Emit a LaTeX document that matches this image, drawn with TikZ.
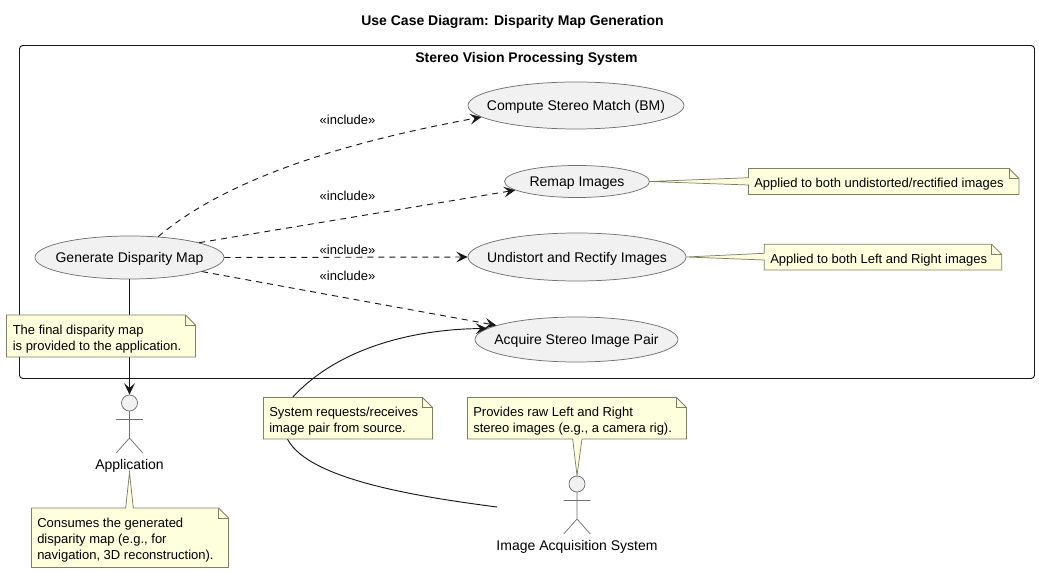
\documentclass[tikz,border=0pt]{standalone}
\usepackage{fontspec}
\setmainfont{Liberation Sans}
\usetikzlibrary{shapes.geometric,arrows.meta,calc}
\definecolor{nf}{HTML}{FEFFDD}
\definecolor{ng}{HTML}{7F7F66}
\definecolor{uf}{HTML}{F1F1F1}
\definecolor{ug}{HTML}{707070}
\definecolor{ln}{HTML}{181818}
\newcommand{\uc}[1]{\smash{\raisebox{-0.36em}{\makebox[0pt]{#1}}}}
\tikzset{x=0.75pt,y=-0.75pt,
 usecase/.style={ellipse,draw=ug,fill=uf,line width=0.55pt,inner sep=0,font=\fontsize{10.5}{12}\selectfont},
 barb/.style={-{Stealth[length=8.5pt,width=8pt,inset=3.5pt]}},
 inc/.style={draw=ln,line width=0.7pt,dash pattern=on 4.5pt off 3.75pt,barb},
 assoc/.style={draw=ln,line width=0.7pt},
 lbl/.style={font=\fontsize{9.75}{11}\selectfont,inner sep=0},
 ntxt/.style={font=\fontsize{9.75}{12}\selectfont,inner sep=0,align=left,anchor=west},
 nshape/.style={draw=ng,fill=nf,line width=0.55pt,line join=miter},
 actor/.style={draw=ug,line width=0.55pt},
 head/.style={circle,draw=ug,fill=uf,line width=0.55pt,minimum size=12pt,inner sep=0},
 atxt/.style={font=\fontsize{10.5}{12}\selectfont,inner sep=0},
 ttl/.style={font=\bfseries\fontsize{10.5}{12}\selectfont,inner sep=0}}
\newcommand{\notebox}[7]{% x1,y1,x2,y2,top pointer,bottom pointer,left pointer
 \draw[nshape] (#1,#2) -- #5 ({#3-10},#2) -- (#3,{#2+10}) -- (#3,#4) -- #6 (#1,#4) -- #7 cycle;
 \draw[nshape,fill=none] ({#3-10},#2) -- ({#3-10},{#2+10}) -- (#3,{#2+10});}
\newcommand{\stick}[1]{% head node name
 \draw[actor] ($(#1)+(0,8)$) -- ($(#1)+(0,35)$)
  ($(#1)+(-13.3,16.5)$) -- ($(#1)+(13.3,16.5)$)
  ($(#1)+(-13.3,50)$) -- ($(#1)+(0,35)$) -- ($(#1)+(13.3,50)$);}
\begin{document}
\begin{tikzpicture}
\useasboundingbox[fill=white] (0,0) rectangle (1039,573);
\node[ttl] (title) at (512.5,21.5) {Use Case Diagram: Disparity Map Generation};
\node[draw=ln,line width=0.7pt,rounded corners=2.5pt,minimum width=761.25pt,minimum height=249.75pt,inner sep=0] (frame) at (527,212) {};
\node[ttl] (sys) at (526.5,58.5) {Stereo Vision Processing System};
% use cases
\node[usecase,minimum width=141.75pt,minimum height=32.25pt] (gen) at (129.5,257.5) {\uc{Generate Disparity Map}};
\node[usecase,minimum width=162pt,minimum height=35.25pt] (cmp) at (576,105.5) {\uc{Compute Stereo Match (BM)}};
\node[usecase,minimum width=108.75pt,minimum height=24pt] (rem) at (577,181.5) {\uc{Remap Images}};
\node[usecase,minimum width=163.5pt,minimum height=36pt] (und) at (577,257) {\uc{Undistort and Rectify Images}};
\node[usecase,minimum width=152.25pt,minimum height=33.75pt] (acq) at (576.5,339.5) {\uc{Acquire Stereo Image Pair}};
% actors
\node[head] (app) at (129.5,403) {};
\stick{app}
\node[atxt] (applbl) at (129.5,465.5) {Application};
\node[head] (ias) at (577,484) {};
\stick{ias}
\node[atxt] (iaslbl) at (577,546.5) {Image Acquisition System};
\coordinate (iasleft) at (497,507);
% connectors
\draw[inc] (gen.36.7) .. controls (225,180) and (340,143) .. (cmp.187.8);
\draw[inc] (gen.12) -- (rem.188.7);
\draw[inc] (gen.0) -- (und.180);
\draw[inc] (gen.-11.6) -- (acq.170.6);
\draw[assoc,barb] (gen) -- (app);
\draw[assoc,barb] (iasleft) .. controls (420,497) and (310,480) .. (288,440)
  .. controls (278,422) and (278,410) .. (292,398)
  .. controls (340,345) and (420,329) .. (acq.173);
% include labels
\node[lbl] (i1) at (347.5,120) {«include»};
\node[lbl] (i2) at (347.5,196) {«include»};
\node[lbl] (i3) at (347.5,250) {«include»};
\node[lbl] (i4) at (347.5,276) {«include»};
% notes
\notebox{6.5}{315}{195.5}{357}{}{}{}
\node[ntxt] (n1) at (12.5,339.5) {The final disparity map\\is provided to the application.};
\notebox{31.5}{508}{228.5}{567.5}{(125.7,508) -- (applbl.south) -- (133.3,508) --}{}{}
\node[ntxt] (n2) at (37,540) {Consumes the generated\\disparity map (e.g., for\\navigation, 3D reconstruction).};
\notebox{263.5}{397.5}{432.5}{439}{}{}{}
\node[ntxt] (n3) at (269,421) {System requests/receives\\image pair from source.};
\notebox{467.5}{397.5}{686.5}{439}{}{(582,439) -- (ias.north) -- (572.7,439) --}{}
\node[ntxt] (n4) at (473,421) {Provides raw Left and Right\\stereo images (e.g., a camera rig).};
\notebox{748.5}{168.5}{1019}{194.5}{}{}{(748.5,185) -- (rem.east) -- (748.5,177.7) --}
\node[ntxt] (n5) at (754,184) {Applied to both undistorted/rectified images};
\notebox{764.3}{244.3}{1001.7}{270}{}{}{(764.3,260) -- (und.east) -- (764.3,253.3) --}
\node[ntxt] (n6) at (770,259.8) {Applied to both Left and Right images};
\end{tikzpicture}
\end{document}
